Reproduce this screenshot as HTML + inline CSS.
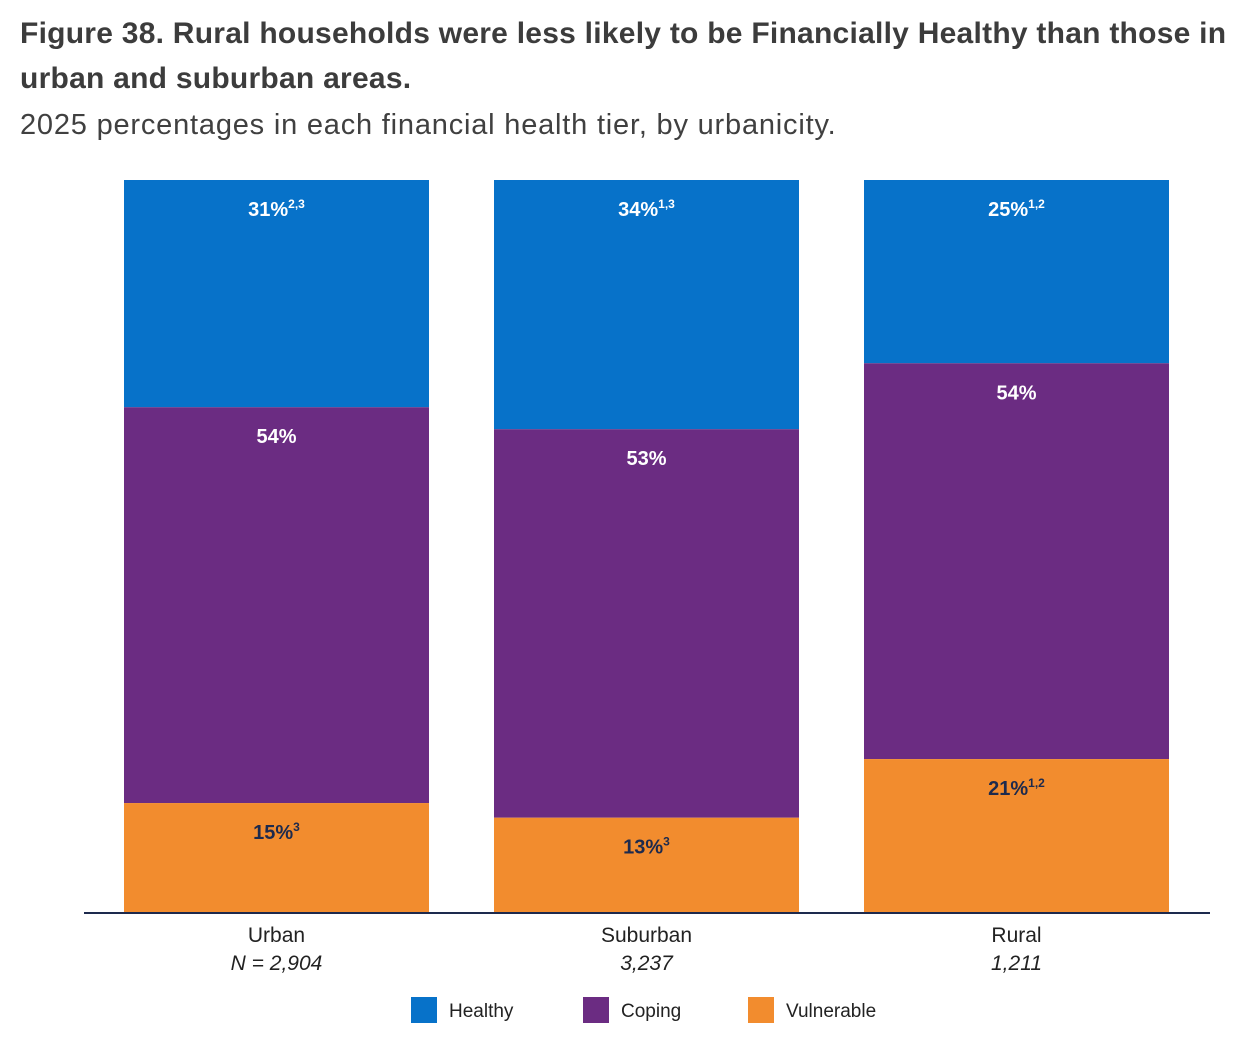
<!DOCTYPE html>
<html><head><meta charset="utf-8"><style>
body{margin:0;background:#fff;font-family:"Liberation Sans",sans-serif;}
.t{position:absolute;left:20px;top:11px;width:1236px;font-size:30px;font-weight:bold;color:#3c3c3c;line-height:45px;letter-spacing:0.25px;}
.s{position:absolute;left:20px;top:109px;font-size:29px;color:#404040;letter-spacing:0.8px;}
</style></head><body>
<div class="t">Figure 38. Rural households were less likely to be Financially Healthy than those in urban and suburban areas.</div>
<div class="s">2025 percentages in each financial health tier, by urbanicity.</div>
<svg id="c" width="1258" height="1054" style="position:absolute;left:0;top:0"></svg>
<script>
const categories=["Urban","Suburban","Rural"];
const nLabels=["N = 2,904","3,237","1,211"];
const healthy=[31,34,25];
const coping=[54,53,54];
const vulnerable=[15,13,21];
const healthySup=["2,3","1,3","1,2"];
const copingSup=["","",""];
const vulnSup=["3","3","1,2"];
const series=[
 {name:"Healthy",vals:healthy,sup:healthySup,color:"#0772c9",text:"#fff"},
 {name:"Coping",vals:coping,sup:copingSup,color:"#6b2c82",text:"#fff"},
 {name:"Vulnerable",vals:vulnerable,sup:vulnSup,color:"#f28c2e",text:"#1d2a4d"}];
const svg=document.getElementById('c');const NS="http://www.w3.org/2000/svg";
const top0=180,base=913,H=base-top0;
const y=v=>top0+v/100*H;
const x=i=>124+i*370, bw=305;
function mk(t,a,p){const e=document.createElementNS(NS,t);for(const k in a)e.setAttribute(k,a[k]);(p||svg).appendChild(e);return e;}
categories.forEach((c,i)=>{
 let cum=0;
 series.forEach(s=>{
  const v=s.vals[i];
  const r=mk('rect',{x:x(i),y:y(cum),width:bw,height:y(cum+v)-y(cum),fill:s.color});
  
  
  const t=mk('text',{x:x(i)+bw/2,y:y(cum)+36,'text-anchor':'middle','font-size':20,'font-weight':'bold',fill:s.text});
  
  
  t.textContent=v+'%';
  if(s.sup[i]){const ts=mk('tspan',{'font-size':12,dy:-8},t);ts.textContent=s.sup[i];}
  cum+=v;
 });
 const l=mk('text',{x:x(i)+bw/2,y:942,'text-anchor':'middle','font-size':21,fill:'#222'});
 
 
 l.textContent=c;
 const n=mk('text',{x:x(i)+bw/2,y:970,'text-anchor':'middle','font-size':21,'font-style':'italic',fill:'#222'});
 
 
 n.textContent=nLabels[i];
});
const ax=mk('line',{x1:84,x2:1210,y1:913,y2:913,stroke:'#1d2a4d','stroke-width':2});


const lx=[411,583,748];
series.forEach((s,k)=>{
 const g=mk('g',{});
 
 
 mk('rect',{x:lx[k],y:997,width:26,height:26,fill:s.color},g);
 const t=mk('text',{x:lx[k]+38,y:1017,'font-size':19,fill:'#222'},g);t.textContent=s.name;
});
</script>
</body></html>
